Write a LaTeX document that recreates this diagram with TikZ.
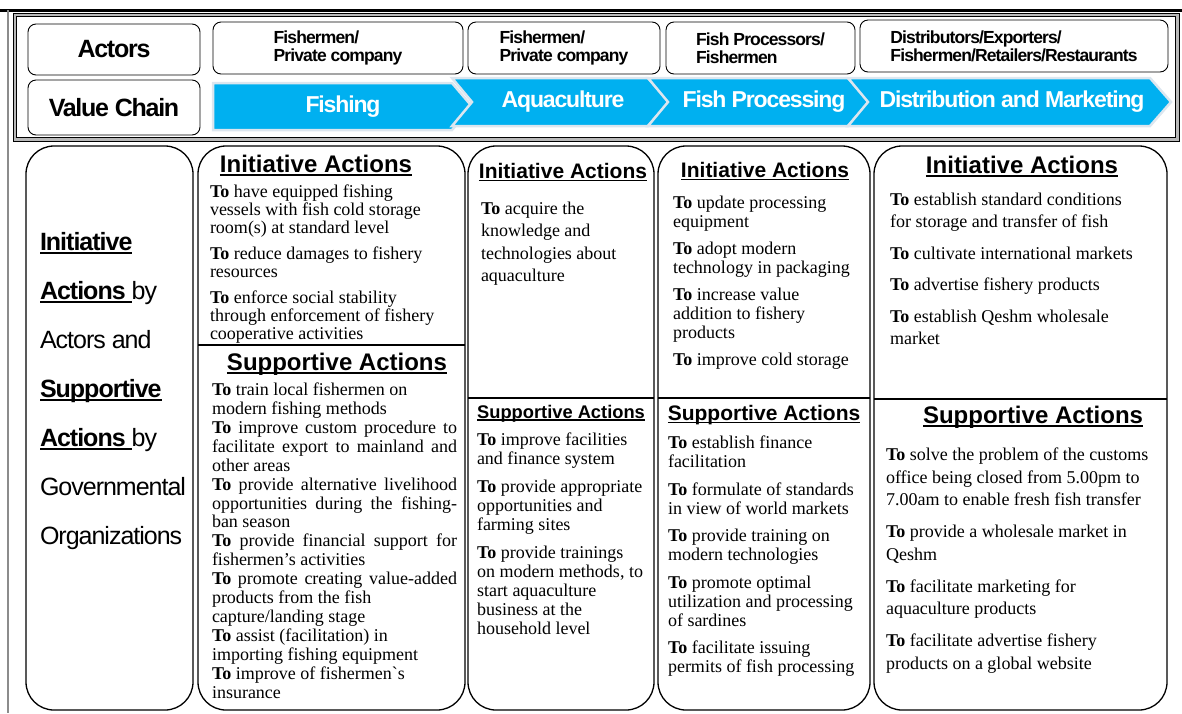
\documentclass[tikz,border=0pt]{standalone}
\usepackage{fontspec}
\setmainfont{Liberation Serif}
\setsansfont{Liberation Sans}
\newfontfamily\narrowsans{Liberation Sans}[LetterSpace=-5]
\newfontfamily\labelsans{Liberation Sans}[LetterSpace=-4]
\definecolor{chainblue}{HTML}{00B0F0}
\definecolor{chainedge}{HTML}{DCE6EF}
\definecolor{framegray}{HTML}{8C8C8C}
\newsavebox\ulbox
\newcommand\hul[1]{\sbox\ulbox{#1}\rlap{\rule[-0.15em]{\wd\ulbox}{0.07em}}\usebox\ulbox}
\newcommand\To{\textbf{To}}
\newcommand\jl[1]{\makebox[245pt][s]{#1}}
\tikzset{
  hdrbox/.style={draw, rounded corners=8pt, line width=0.9pt},
  panel/.style={draw, line width=1.3pt, rounded corners=28pt},
  divline/.style={line width=1.8pt},
  chev/.style={fill=chainblue, draw=chainedge, line width=2.5pt, line join=miter},
  chevtxt/.style={text=white, font=\fontsize{23}{25}\selectfont\narrowsans\bfseries},
  acttxt/.style={align=left, font=\fontsize{17.5}{18}\selectfont\narrowsans\bfseries},
  headtxt/.style={anchor=base},
  body/.style={anchor=north west, align=left},
}

\begin{document}
\begin{tikzpicture}[x=1pt, y=-1pt, inner sep=0pt, outer sep=0pt]
    \useasboundingbox (0,0) rectangle (1182,713);
    % Page rules
    \draw[line width=3pt] (0,10) -- (1182,10);
    \draw[framegray, line width=1.2pt] (8,10) -- (8,713);
    % Header frame (double line)
    \draw[gray!55, line width=4pt] (14.5,14.5) rectangle (1177.5,139.5);
    \draw[line width=1pt] (13,13) rectangle (1179,141);
    \draw[line width=1pt] (16.5,16.5) rectangle (1175.5,137.5);
    % Row heads
    \node[hdrbox, minimum width=172pt, minimum height=51pt, font=\fontsize{25}{27}\selectfont\narrowsans\bfseries] (actors) at (114,49.5) {Actors};
    \node[hdrbox, minimum width=172pt, minimum height=55pt, font=\fontsize{25}{27}\selectfont\narrowsans\bfseries] (chain) at (114,107.5) {Value Chain};
    % Actor boxes
    \node[hdrbox, acttxt, minimum width=250pt, minimum height=52pt] (actFish) at (338,48) {Fishermen/\\Private company};
    \node[hdrbox, acttxt, minimum width=192pt, minimum height=52pt] (actAqua) at (564,48) {Fishermen/\\Private company};
    \node[hdrbox, acttxt, minimum width=189pt, minimum height=52pt] (actProc) at (760.5,48) {Fish Processors/\\Fishermen};
    \node[hdrbox, acttxt, minimum width=308pt, minimum height=52pt] (actDist) at (1014,46) {Distributors/Exporters/\\Fishermen/Retailers/Restaurants};
    % Value chain arrows
    \draw[chev] (213,83) -- (452,83) -- (472,106.5) -- (452,130) -- (213,130) -- cycle;
    \foreach \xa/\xb in {452/648, 648/848, 848/1150} {
      \draw[chev] (\xa,78) -- (\xb,78) -- ({\xb+21},102) -- (\xb,126) -- (\xa,126) -- ({\xa+20},102) -- cycle;
    }
    \node[chevtxt] (lblFish) at (343,106.5) {Fishing};
    \node[chevtxt] (lblAqua) at (563,102) {Aquaculture};
    \node[chevtxt] (lblProc) at (764,102) {Fish Processing};
    \node[chevtxt] (lblDist) at (1012,102) {Distribution and Marketing};
    % Panels
    \draw[panel] (26,146) rectangle (193,710);
    \foreach \xl/\xr/\yd in {198/465/345, 468/654/398, 658/870/398, 874/1167/399} {
      \draw[panel] (\xl,146) rectangle (\xr,710);
      \draw[divline] (\xl,\yd) -- (\xr,\yd);
    }
    % Row label
    \node[body, font=\fontsize{25}{49}\selectfont\labelsans] (rowlab) at (40,232)
      {\textbf{\hul{Initiative}}\\ \textbf{\hul{Actions\ }}by\\ Actors and\\ \textbf{\hul{Supportive}}\\ \textbf{\hul{Actions\ }}by\\ Governmental\\ Organizations};
    % Headings
    \node[headtxt, font=\fontsize{24}{26}\selectfont\sffamily\bfseries] (fishIniT) at (316,172) {\hul{Initiative Actions}};
    \node[headtxt, font=\fontsize{24}{26}\selectfont\sffamily\bfseries] (fishSupT) at (337,370) {\hul{Supportive Actions}};
    \node[headtxt, font=\fontsize{21}{23}\selectfont\sffamily\bfseries] (aquaIniT) at (563,178) {\hul{Initiative Actions}};
    \node[headtxt, font=\fontsize{18.3}{20}\selectfont\sffamily\bfseries] (aquaSupT) at (561,418) {\hul{Supportive Actions}};
    \node[headtxt, font=\fontsize{21}{23}\selectfont\sffamily\bfseries] (procIniT) at (765,177) {\hul{Initiative Actions}};
    \node[headtxt, font=\fontsize{21}{23}\selectfont\sffamily\bfseries] (procSupT) at (764,420) {\hul{Supportive Actions}};
    \node[headtxt, font=\fontsize{24}{26}\selectfont\sffamily\bfseries] (distIniT) at (1022,173) {\hul{Initiative Actions}};
    \node[headtxt, font=\fontsize{24}{26}\selectfont\sffamily\bfseries] (distSupT) at (1033,423) {\hul{Supportive Actions}};
    % Fishing
    \node[body, font=\fontsize{18}{18}\selectfont] (fishIni) at (210,185)
      {\To{} have equipped fishing\\ vessels with fish cold storage\\ room(s) at standard level\\[8pt]
       \To{} reduce damages to fishery\\ resources\\[8pt]
       \To{} enforce social stability\\ through enforcement of fishery\\ cooperative activities};
    \node[body, font=\fontsize{18}{18.9}\selectfont] (fishSup) at (212,383)
      {\To{} train local fishermen on\\ modern fishing methods\\
       \jl{\To{} improve custom procedure to}\\ \jl{facilitate export to mainland and}\\ other areas\\
       \jl{\To{} provide alternative livelihood}\\ \jl{opportunities during the fishing-}\\ ban season\\
       \jl{\To{} provide financial support for}\\ fishermen's activities\\
       \jl{\To{} promote creating value-added}\\ products from the fish\\ capture/landing stage\\
       \To{} assist (facilitation) in\\ importing fishing equipment\\
       \To{} improve of fishermen\textasciigrave s\\ insurance};
    % Aquaculture
    \node[body, font=\fontsize{18}{22.5}\selectfont] (aquaIni) at (481,202)
      {\To{} acquire the\\ knowledge and\\ technologies about\\ aquaculture};
    \node[body, font=\fontsize{18}{19}\selectfont] (aquaSup) at (477,433)
      {\To{} improve facilities\\ and finance system\\[9pt]
       \To{} provide appropriate\\ opportunities and\\ farming sites\\[9pt]
       \To{} provide trainings\\ on modern methods, to\\ start aquaculture\\ business at the\\ household level};
    % Fish processing
    \node[body, font=\fontsize{18}{19}\selectfont] (procIni) at (673,196)
      {\To{} update processing\\ equipment\\[8pt]
       \To{} adopt modern\\ technology in packaging\\[8pt]
       \To{} increase value\\ addition to fishery\\ products\\[8pt]
       \To{} improve cold storage};
    \node[body, font=\fontsize{18}{19}\selectfont] (procSup) at (668,436)
      {\To{} establish finance\\ facilitation\\[8.5pt]
       \To{} formulate of standards\\ in view of world markets\\[8.5pt]
       \To{} provide training on\\ modern technologies\\[8.5pt]
       \To{} promote optimal\\ utilization and processing\\ of sardines\\[8.5pt]
       \To{} facilitate issuing\\ permits of fish processing};
    % Distribution and marketing
    \node[body, font=\fontsize{18}{22.5}\selectfont] (distIni) at (890,193)
      {\To{} establish standard conditions\\ for storage and transfer of fish\\[9pt]
       \To{} cultivate international markets\\[9pt]
       \To{} advertise fishery products\\[9pt]
       \To{} establish Qeshm wholesale\\ market};
    \node[body, font=\fontsize{18}{22.5}\selectfont] (distSup) at (886,448)
      {\To{} solve the problem of the customs\\ office being closed from 5.00pm to\\ 7.00am to enable fresh fish transfer\\[9.5pt]
       \To{} provide a wholesale market in\\ Qeshm\\[9.5pt]
       \To{} facilitate marketing for\\ aquaculture products\\[9.5pt]
       \To{} facilitate advertise fishery\\ products on a global website};
\end{tikzpicture}
\end{document}
